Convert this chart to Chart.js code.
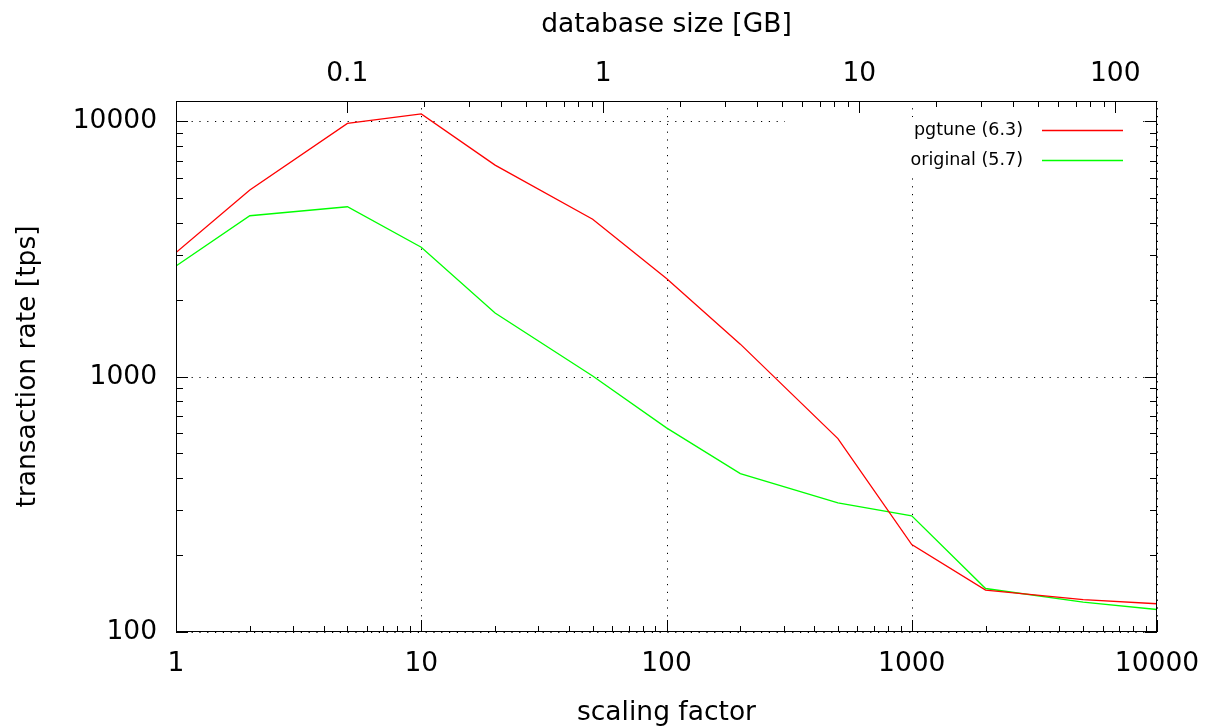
<!DOCTYPE html>
<html>
<head>
<meta charset="utf-8">
<script src="https://cdn.jsdelivr.net/npm/chart.js@4/dist/chart.umd.min.js"></script>
<style>
  html, body { margin: 0; padding: 0; background: #fff; overflow: hidden; }
  canvas { display: block; }
</style>
</head>
<body>
<canvas id="c" width="1210" height="727"></canvas>
<script>
// ---- data ----
const scaleFactors = [1, 2, 5, 10, 20, 50, 100, 200, 500, 1000, 2000, 5000, 10000];
const pgtuneTps   = [3060, 5380, 9800, 10680, 6730, 4130, 2420, 1340, 572, 220, 146, 134, 129];
const originalTps = [2710, 4265, 4625, 3210, 1775, 1005, 630, 417, 320, 285, 148, 131, 122.5];
const seriesLabels = ['pgtune (6.3)', 'original (5.7)'];

// ---- axes / ticks ----
const xMajorTicks  = [1, 10, 100, 1000, 10000];
const yMajorTicks  = [100, 1000, 10000];
const x2MajorTicks = [0.1, 1, 10, 100];
const xRange  = [1, 10000];
const yRange  = [100, 12000];
const x2Range = [0.02143, 145.6];
const xTitle  = 'scaling factor';
const x2Title = 'database size [GB]';
const yTitle  = 'transaction rate [tps]';

function minorTicks(majors, lo, hi) {
  const out = [];
  for (let i = 0; i < majors.length; i++) {
    for (let k = 2; k <= 9; k++) {
      const v = +(majors[i] * k).toPrecision(6);
      if (v > lo && v < hi) out.push(v);
    }
  }
  return out;
}
const xMinor  = minorTicks(xMajorTicks, xRange[0], xRange[1]);
const yMinor  = minorTicks(yMajorTicks, yRange[0], yRange[1]);
const x2Minor = minorTicks(x2MajorTicks, x2Range[0], x2Range[1]);

const FONT = 'DejaVu Sans';
Chart.defaults.font.family = FONT;
Chart.defaults.color = '#000';

const tickFont = { family: FONT, size: 26.5 };
const titleFont = { family: FONT, size: 26.5, lineHeight: 1 };

function fixedTicks(values) {
  return (scale) => { scale.ticks = values.map(v => ({ value: v })); };
}

const frame = {
  id: 'gnuplotFrame',
  beforeDatasetsDraw(chart) {
    const { ctx, chartArea: a, scales } = chart;
    ctx.save();
    ctx.strokeStyle = '#000';
    ctx.lineWidth = 1;
    ctx.setLineDash([1.2, 6.6]);
    xMajorTicks.forEach(v => {
      const px = Math.round(scales.x.getPixelForValue(v)) + 0.5;
      ctx.beginPath(); ctx.moveTo(px, a.bottom); ctx.lineTo(px, a.top); ctx.stroke();
    });
    yMajorTicks.forEach(v => {
      const py = Math.round(scales.y.getPixelForValue(v)) + 0.5;
      ctx.beginPath(); ctx.moveTo(a.left, py); ctx.lineTo(a.right, py); ctx.stroke();
    });
    ctx.setLineDash([]);
    // opaque key box
    ctx.fillStyle = '#fff';
    ctx.fillRect(a.right - 372, a.top + 16, 355, 56);
    ctx.restore();
  },
  afterDatasetsDraw(chart) {
    const { ctx, chartArea: a, scales } = chart;
    ctx.save();
    ctx.strokeStyle = '#000';
    ctx.lineWidth = 1;
    const vt = (scale, vals, len, side) => {
      vals.forEach(v => {
        const px = Math.round(scale.getPixelForValue(v)) + 0.5;
        ctx.beginPath();
        if (side === 'bottom') { ctx.moveTo(px, a.bottom); ctx.lineTo(px, a.bottom - len); }
        else { ctx.moveTo(px, a.top); ctx.lineTo(px, a.top + len); }
        ctx.stroke();
      });
    };
    const ht = (scale, vals, len) => {
      vals.forEach(v => {
        const py = Math.round(scale.getPixelForValue(v)) + 0.5;
        ctx.beginPath(); ctx.moveTo(a.left, py); ctx.lineTo(a.left + len, py); ctx.stroke();
        ctx.beginPath(); ctx.moveTo(a.right, py); ctx.lineTo(a.right - len, py); ctx.stroke();
      });
    };
    vt(scales.x, xMajorTicks, 12, 'bottom');
    vt(scales.x, xMinor, 6, 'bottom');
    vt(scales.x2, x2MajorTicks, 12, 'top');
    vt(scales.x2, x2Minor, 6, 'top');
    ht(scales.y, yMajorTicks, 12);
    ht(scales.y, yMinor, 7);
    // border
    ctx.strokeRect(a.left + 0.5, a.top + 0.5, a.right - a.left - 1, a.bottom - a.top - 1);
    // key
    ctx.font = '17.5px "' + FONT + '"';
    ctx.textAlign = 'right';
    ctx.textBaseline = 'middle';
    chart.data.datasets.forEach((ds, i) => {
      const yy = a.top + 29 + i * 30;
      ctx.fillStyle = '#000';
      ctx.fillText(ds.label, a.right - 134, yy);
      ctx.strokeStyle = ds.borderColor;
      ctx.lineWidth = 1.3;
      ctx.beginPath(); ctx.moveTo(a.right - 115, yy + 0.5); ctx.lineTo(a.right - 34, yy + 0.5); ctx.stroke();
    });
    ctx.restore();
  }
};

new Chart(document.getElementById('c'), {
  type: 'line',
  data: {
    datasets: [
      { label: seriesLabels[0], data: scaleFactors.map((s, i) => ({ x: s, y: pgtuneTps[i] })),
        borderColor: '#ff0000', backgroundColor: '#ff0000', xAxisID: 'x', yAxisID: 'y' },
      { label: seriesLabels[1], data: scaleFactors.map((s, i) => ({ x: s, y: originalTps[i] })),
        borderColor: '#00ff00', backgroundColor: '#00ff00', xAxisID: 'x', yAxisID: 'y' }
    ]
  },
  options: {
    responsive: false,
    animation: false,
    devicePixelRatio: 1,
    layout: { padding: { left: 0, right: 53, top: 0, bottom: 0 } },
    elements: { point: { radius: 0 }, line: { borderWidth: 1.3, tension: 0 } },
    plugins: { legend: { display: false }, tooltip: { enabled: false } },
    scales: {
      x: {
        type: 'logarithmic', position: 'bottom', min: xRange[0], max: xRange[1],
        afterBuildTicks: fixedTicks(xMajorTicks),
        afterFit: s => { s.height = 95; s.paddingLeft = 0; s.paddingRight = 0; },
        grid: { display: false, drawTicks: false }, border: { display: false },
        ticks: { autoSkip: false, maxRotation: 0, padding: 16, font: tickFont, color: '#000',
                 callback: v => String(v) },
        title: { display: true, text: xTitle, font: titleFont, color: '#000', padding: { top: 0, bottom: 1 } }
      },
      x2: {
        axis: 'x', type: 'logarithmic', position: 'top', min: x2Range[0], max: x2Range[1],
        afterBuildTicks: fixedTicks(x2MajorTicks),
        afterFit: s => { s.height = 101; s.paddingLeft = 0; s.paddingRight = 0; },
        grid: { display: false, drawTicks: false }, border: { display: false },
        ticks: { autoSkip: false, maxRotation: 0, padding: 11, font: tickFont, color: '#000',
                 callback: v => String(v) },
        title: { display: true, text: x2Title, font: titleFont, color: '#000', padding: { top: 12, bottom: 0 } }
      },
      y: {
        type: 'logarithmic', position: 'left', min: yRange[0], max: yRange[1],
        afterBuildTicks: fixedTicks(yMajorTicks),
        afterFit: s => { s.width = 176; s.paddingTop = 0; s.paddingBottom = 0; },
        grid: { display: false, drawTicks: false }, border: { display: false },
        ticks: { autoSkip: false, padding: 19, font: tickFont, color: '#000',
                 callback: v => String(v) },
        title: { display: true, text: yTitle, font: titleFont, color: '#000', padding: { top: 15, bottom: 0 } }
      }
    }
  },
  plugins: [frame]
});
</script>
</body>
</html>
